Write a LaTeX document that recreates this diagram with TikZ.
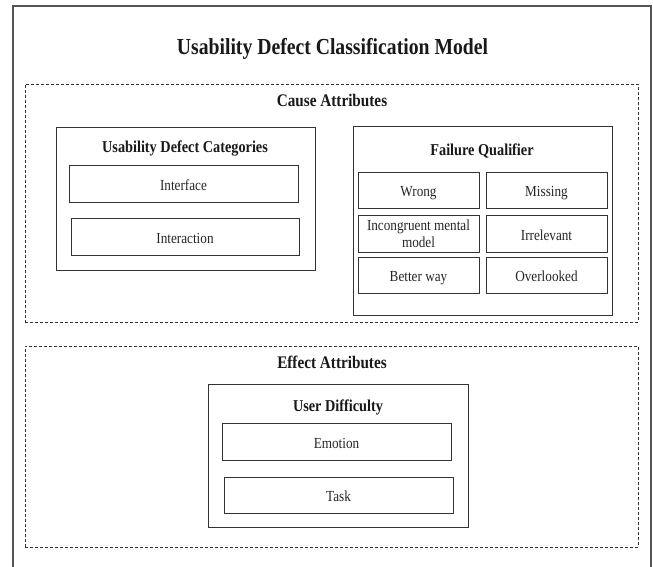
\documentclass[tikz,border=0pt]{standalone}
\usepackage{fontspec}
\setmainfont{Liberation Serif}[FakeStretch=0.86]
\usetikzlibrary{shadows}
\definecolor{linec}{HTML}{333333}
\definecolor{framec}{HTML}{555555}
\tikzset{
  box/.style={draw=linec, line width=0.9pt, fill=white, inner sep=0pt,
    drop shadow={shadow xshift=1pt, shadow yshift=-1.2pt, opacity=0.22, fill=black}},
  item/.style={box, font=\fontsize{15.35}{17}\selectfont, align=center, text=black!85},
  oneline/.style={item, text height=13pt, text depth=0pt},
  dbox/.style={draw=linec, line width=0.8pt, dash pattern=on 3pt off 2pt, inner sep=0pt},
  head/.style={font=\fontsize{16.6}{19}\selectfont\bfseries, anchor=base, inner sep=0pt, text=black!90},
  sechead/.style={head, font=\fontsize{17.7}{20}\selectfont\bfseries},
  titlehead/.style={head, font=\fontsize{22.9}{26}\selectfont\bfseries},
}
\begin{document}
\begin{tikzpicture}[x=1pt,y=-1pt]
\useasboundingbox (0,0) rectangle (653,567);
\clip (0,0) rectangle (653,567);
\fill[white] (0,0) rectangle (653,567);
\draw[framec, line width=1.3pt] (13,6) rectangle (651,600);
\node[titlehead] (title) at (332.5,54.5) {Usability Defect Classification Model};
% cause attributes
\node[dbox, minimum width=613pt, minimum height=238pt] (cause) at (331.5,203) {};
\node[sechead] (causelbl) at (332,106.7) {Cause Attributes};
\node[box, minimum width=259pt, minimum height=143pt] (udc) at (185.5,198.5) {};
\node[head] (udclbl) at (185,152.3) {Usability Defect Categories};
\node[oneline, minimum width=229pt, minimum height=37pt] (interface) at (183.5,183.5) {Interface};
\node[oneline, minimum width=228pt, minimum height=37pt] (interaction) at (185,236.5) {Interaction};
\node[box, minimum width=259pt, minimum height=189pt] (fq) at (482.5,220.5) {};
\node[head] (fqlbl) at (482,155) {Failure Qualifier};
\node[oneline, minimum width=121pt, minimum height=36pt] (wrong) at (418.5,190) {Wrong};
\node[oneline, minimum width=121pt, minimum height=36pt] (missing) at (546.5,190) {Missing};
\node[item, minimum width=121pt, minimum height=37pt] (incong) at (418.5,233.5) {Incongruent mental\\model};
\node[oneline, minimum width=121pt, minimum height=37pt] (irrel) at (546.5,233.5) {Irrelevant};
\node[oneline, minimum width=121pt, minimum height=36pt] (better) at (418.5,275) {Better way};
\node[oneline, minimum width=121pt, minimum height=36pt] (overl) at (546.5,275) {Overlooked};
% effect attributes
\node[dbox, minimum width=613pt, minimum height=201pt] (effect) at (331.5,446.5) {};
\node[sechead] (effectlbl) at (332,368) {Effect Attributes};
\node[box, minimum width=260pt, minimum height=143pt] (ud) at (338,455.5) {};
\node[head] (udlbl) at (338,411.7) {User Difficulty};
\node[oneline, minimum width=229pt, minimum height=37pt] (emotion) at (336.5,441.5) {Emotion};
\node[oneline, minimum width=229pt, minimum height=36pt] (task) at (338.5,495) {Task};
\end{tikzpicture}
\end{document}
